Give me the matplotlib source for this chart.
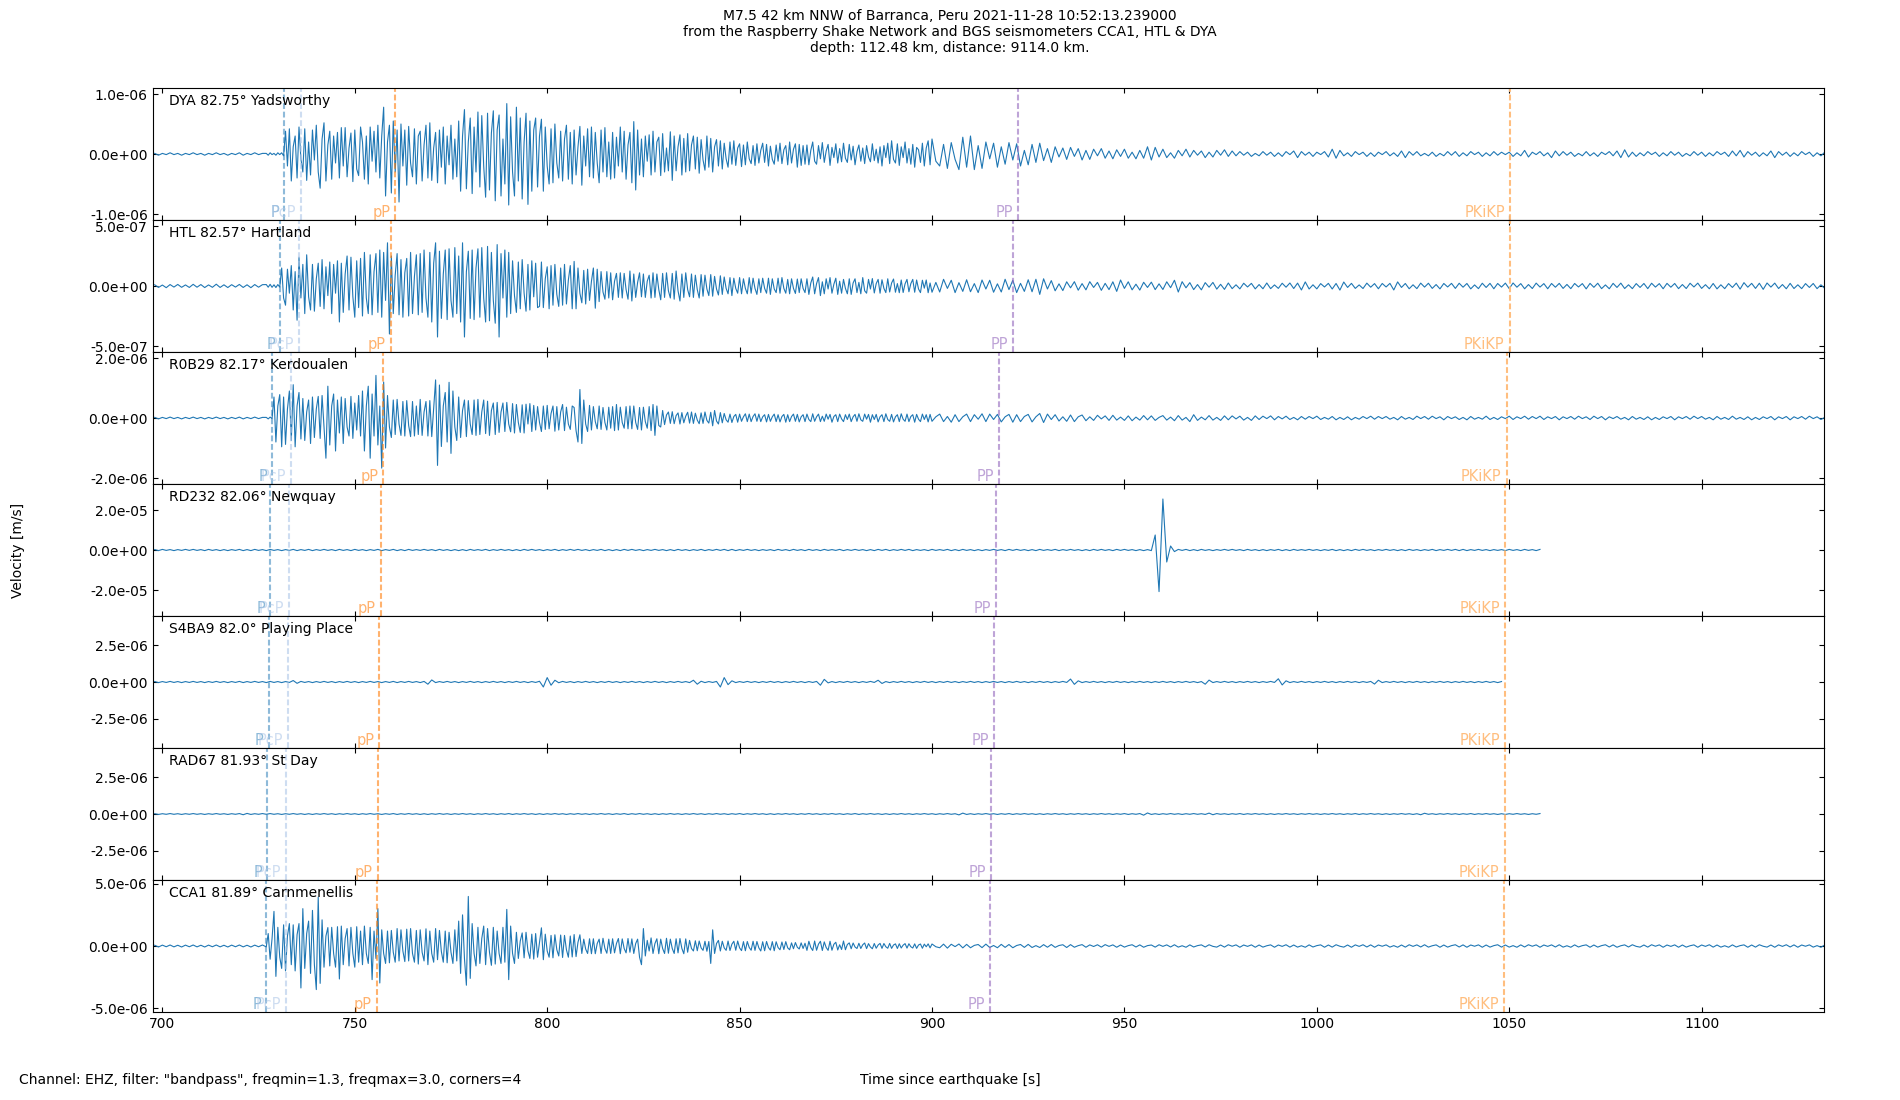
import numpy as np
import matplotlib
matplotlib.use("Agg")
import matplotlib.pyplot as plt
from matplotlib.ticker import FormatStrFormatter

# ---- data ----
# the strong traces are kept in three pieces: 1 s samples before the onset,
# 0.5 s samples over the main arrivals (727-899.5 s), 1 s samples after.

stations = ["DYA 82.75° Yadsworthy", "HTL 82.57° Hartland", "R0B29 82.17° Kerdoualen",
            "RD232 82.06° Newquay", "S4BA9 82.0° Playing Place", "RAD67 81.93° St Day",
            "CCA1 81.89° Carnmenellis"]

# unit of each trace list [m/s]
units = [1e-8, 1e-9, 1e-8, 1e-7, 1e-8, 1e-8, 1e-8]

ylims = [1.1e-6, 5.5e-7, 2.2e-6, 3.3e-5, 4.5e-6, 4.5e-6, 5.3e-6]
yticks = [1.0e-6, 5.0e-7, 2.0e-6, 2.0e-5, 2.5e-6, 2.5e-6, 5.0e-6]

head_start, body_start, tail_start = 698.0, 727.0, 900.0

# ---------------- DYA ----------------
dya_head = [
    1, -2, 1, -1, 2, -1, 1, -2, 1, -1,
    2, -1, 1, -2, 1, -1, 2, -1, 1, -2,
    1, -1, 2, -2, 1, -1, 2, -1, 1,
]
dya_body = [
    1, -2, 2, -1, 1, -2, 2, -1, 2, -3,
    38, -20, 42, -45, 12, 30, -40, 45, -8, -30,
    42, -44, 20, -35, 40, -10, 48, -30, -57, 25,
    52, -45, 15, 38, -42, 30, -15, 36, -40, 44,
    -20, 44, -38, 10, 35, -46, 40, -25, -36, 45,
    20, -42, 30, -50, 45, -12, 38, -30, 48, -40,
    30, 78, -70, 20, 48, -65, 55, -30, 40, -80,
    50, -20, 40, -52, 46, -15, -38, 42, -50, 30,
    38, -45, 15, 48, -40, 52, -44, 10, 36, -48,
    40, -22, 45, -50, 30, -18, 48, -42, 25, -38,
    55, -62, 30, 74, -58, 20, 60, -66, 45, -30,
    70, -55, 64, -20, -72, 68, -60, 35, 72, -78,
    40, 65, -70, 25, -50, 84, -85, 62, -30, -70,
    78, -45, 60, -75, 20, 68, -84, 55, -62, 40,
    60, -55, 30, 58, -62, 45, -20, -50, 42, -48,
    50, -15, -40, 38, -45, 25, 48, -42, 36, -50,
    40, -35, 12, 46, -52, 30, -20, 42, -38, 45,
    -40, 36, -15, -48, 40, -30, 44, -38, 20, -42,
    36, -40, 28, -20, 45, -30, 38, -42, 15, 36,
    -48, 54, -60, 40, -35, 25, -38, 30, -12, 32,
    -35, 38, -30, 20, 28, -36, 34, -30, 10, -28,
    37, -44, 30, -28, 12, 32, -35, 26, -30, 34,
    -28, 15, 30, -25, 28, -32, 24, -10, -27, 30,
    -22, 26, -30, 12, 24, -20, 22, -25, 18, -8,
    -22, 20, -17, 22, -19, 10, 17, -21, 15, -18,
    20, -8, -16, 14, -19, 17, -15, 6, 18, -14,
    16, -20, 13, -9, -17, 15, -12, 18, -16, 7,
    14, -18, 20, -15, 8, 17, -22, 16, -19, 14,
    -17, 15, -18, 6, 20, -12, -17, 14, -8, 19,
    -14, 5, 16, -19, 11, -6, 17, -15, 9, -13,
    18, -7, -14, 16, -10, 13, -18, 4, 15, -12,
    10, -16, 14, -5, -13, 17, -11, 8, -15, 12,
    -20, 14, -6, 18, -16, 22, -9, -15, 17, -19,
    12, -6, 20, -15, 9, -17, 16, -22, 11, 7,
    -14, 18, -20, 10, 22, -18,
]
dya_tail = [
    25, -12, -20, 16, -24, 19, -9, -26, 28, -22,
    30, -26, 14, -24, 20, -8, 18, -22, 12, -17,
    19, -10, 17, -20, 6, -18, 16, -14, 18, -11,
    9, -14, 12, -5, 10, -9, 11, -4, 9, -10,
    6, -9, 8, -3, 9, -7, 5, -8, 7, -4,
    8, -7, 3, -8, 6, -7, 12, -10, 11, -5,
    8, -6, 2, -7, 6, -3, 8, -5, 6, -2,
    5, -6, 3, -5, 6, -2, 7, -4, 5, -3,
    4, -2, 3, -4, 1, -3, 4, -2, 3, -4,
    2, -4, 4, -1, 5, -6, 4, -2, 3, -4,
    3, -1, 4, -5, 8, -7, 6, -3, 2, -4,
    4, -1, 3, -4, 2, -4, 3, -1, 4, -3,
    2, -4, 5, -6, 4, -2, 4, -3, 1, -3,
    3, -4, 1, -3, 4, -2, 4, -4, 2, -3,
    4, -1, 3, -4, 2, -3, 4, -2, 3, -1,
    3, -4, 2, -3, 6, -5, 3, -1, 4, -3,
    2, -6, 5, -3, 4, -2, 3, -4, 1, -3,
    4, -3, 2, -4, 3, -1, 4, -3, 5, -6,
    7, -5, 3, -4, 2, -3, 4, -1, 3, -4,
    2, -3, 4, -2, 3, -4, 1, -3, 4, -2,
    3, -4, 2, -3, 4, -1, 3, -4, 5, -3,
    6, -5, 4, -2, 3, -4, 2, -3, 5, -6,
    4, -2, 3, -4, 2, -3, 4, -1, 3, -4,
    2, -3, 3,
]

# ---------------- HTL ----------------
htl_head = [
    10, -12, 8, -14, 12, -9, 13, -11, 9, -12,
    14, -10, 12, -13, 9, -11, 15, -12, 10, -13,
    11, -9, 13, -12, 10, -14, 12, -10, 11,
]
htl_body = [
    12, -10, 14, -11, 10, -13, 12, -9, 150, -100,
    -160, 140, -60, 170, -200, 120, -285, 240, -100, 180,
    -230, 260, -90, -200, 180, -210, 60, 190, -170, 220,
    -190, 160, -80, 200, -230, 180, -60, 210, -300, 190,
    -220, 100, 250, -200, 240, -90, -260, 210, -180, 230,
    -250, 280, -100, -230, 260, -240, 120, 270, -220, 300,
    -260, 280, -120, 360, -400, 250, -230, 90, 270, -240,
    220, -260, 110, 230, -250, 280, -230, 80, 260, -240,
    270, -220, 300, -100, -260, 280, -300, 190, 360, -425,
    290, -270, 100, 300, -280, 310, -120, -260, 320, -230,
    250, -300, 360, -425, 120, 290, -270, 300, -280, 150,
    310, -260, 320, -100, -300, 330, -290, 280, -120, -310,
    345, -425, 270, -100, 300, -260, 280, -230, 210, -80,
    -220, 200, -190, 220, -60, -210, 180, -200, 210, -90,
    190, -180, -170, 200, -180, 60, 160, -190, 170, -160,
    180, -70, -170, 150, -160, 180, -150, 50, 170, -190,
    205, -190, 150, -60, -140, 130, -150, 140, -120, 40,
    150, -185, 140, -130, 120, -50, -110, 120, -100, 110,
    -115, 40, 105, -95, 110, -100, 105, -30, -110, 125,
    -125, 100, -95, 30, 110, -90, 100, -95, 40, 90,
    -100, 110, -95, 100, -30, -115, 105, -95, 110, -40,
    -100, 105, -110, 125, -40, -125, 100, -95, 110, -30,
    -90, 100, -95, 90, -30, -100, 95, -85, 90, -25,
    -80, 95, -85, 80, -25, -75, 85, -70, 75, -20,
    -65, 70, -80, 65, -20, -60, 70, -65, 60, -20,
    -65, 70, -60, 65, -20, -70, 60, -55, 65, -20,
    -60, 65, -70, 60, -25, -55, 65, -60, 70, -20,
    -60, 55, -65, 60, -20, -62, 58, -55, 60, -20,
    -55, 60, -70, 25, 75, -65, 20, 70, -80, 35,
    -65, 60, -25, 70, -60, 15, 65, -70, 40, -60,
    55, -20, -65, 60, -70, 25, 60, -55, 30, -65,
    70, -40, -60, 55, -25, 62, -58, 20, 55, -60,
    52, -20, -55, 60, -50, 25, 58, -52, 20, -56,
    50, -54, 18, 55, -48, 20, 55, -52, 50, -25,
    -55, 48, -18, 50, -56, 25,
]
htl_tail = [
    -52, 30, -50, 56, -20, 48, -55, 28, -45, 52,
    -48, 20, -55, 50, -25, 48, -52, 18, -50, 56,
    -30, 48, -55, 22, -45, 52, -48, 56, -70, 60,
    -25, 45, -40, 18, -38, 35, -15, 36, -35, 20,
    -32, 36, -12, 30, -36, 22, -30, 35, -45, 50,
    -20, 35, -32, 15, -34, 31, -12, 32, -30, 18,
    -29, 35, -14, 48, -50, 36, -15, 28, -30, 12,
    -32, 28, -10, 30, -26, 14, -28, 25, -22, 10,
    -24, 23, -8, 22, -24, 12, -23, 25, -22, 9,
    -20, 23, -10, 25, -21, 24, -33, 34, -25, 10,
    -24, 20, -8, 22, -25, 21, -34, 33, -12, 22,
    -20, 9, -21, 24, -10, 20, -23, 21, -8, 22,
    -33, 34, -12, 21, -23, 10, -22, 24, -9, 23,
    -20, 12, -24, 21, -8, 22, -20, 23, -10, 21,
    -24, 9, -22, 23, -12, 22, -23, 21, -9, 24,
    -22, 25, -10, 20, -23, 12, -21, 24, -9, 20,
    -23, 21, -10, 22, -20, 13, -22, 21, -8, 20,
    -24, 22, -11, 23, -22, 9, -23, 22, -12, 24,
    -21, 10, -22, 20, -12, 21, -22, 23, -9, 20,
    -23, 22, -10, 21, -22, 12, -21, 23, -8, 24,
    -20, 11, -23, 21, -24, 10, -22, 20, -12, 24,
    -26, 28, -10, 22, -20, 23, -28, 25, -9, 24,
    -21, 12, -23, 22, -21, 10, -22, 20, -12, 21,
    -22, 10, -20,
]

# ---------------- R0B29 ----------------
r0b29_head = [
    2, -3, 2, -2, 3, -2, 2, -3, 2, -2,
    3, -2, 2, -3, 2, -2, 3, -2, 2, -3,
    2, -2, 3, -3, 2, -2, 3, -2, 2,
]
r0b29_body = [
    2, -3, 3, -2, 70, -80, 40, 78, -96, 70,
    -88, 30, 90, -75, 111, -96, 40, 85, -70, 65,
    -75, 20, 60, -85, 70, -65, 30, 72, -68, 75,
    -30, -134, 106, -90, 40, 80, -110, 60, -50, 70,
    -85, 65, -30, -60, 72, -68, 50, -40, 75, -60,
    90, -110, 40, 106, -134, 80, -60, 142, -90, 40,
    -167, 120, -100, 75, -30, -65, 60, -55, 62, -20,
    -58, 55, -60, 58, -25, -62, 55, -60, 40, -55,
    62, -58, 20, 55, -60, 58, -62, 30, 127, -158,
    110, -95, 40, 85, -80, 119, -118, 90, -30, -75,
    70, -65, 25, 60, -62, 58, -20, -55, 60, -58,
    62, -55, 20, 60, -52, 56, -58, 25, 50, -55,
    52, -48, 20, 50, -45, 52, -20, -46, 48, -50,
    45, -15, -48, 44, -50, 46, -20, 48, -45, 42,
    -40, 38, -15, -45, 40, -38, 42, -36, 15, 40,
    -44, 38, -40, 20, 45, -42, 36, -20, -38, 40,
    35, -42, -80, 95, -85, 60, -20, -45, 42, -40,
    38, -12, -36, 40, -38, 35, -15, -40, 36, -34,
    38, -42, 45, -40, 36, -15, -34, 38, -36, 40,
    -36, 40, -15, -38, 35, -40, 36, -12, -34, 38,
    -42, 45, -58, 40, -25, -30, 25, -22, 10, 20,
    -18, 21, -19, 8, 17, -20, 18, -16, 6, 19,
    -17, 20, -18, 16, -7, -19, 17, -18, 20, -8,
    -17, 19, -26, 25, -10, -20, 18, -16, 15, -6,
    -14, 13, -15, 5, 12, -14, 13, -11, 4, 14,
    -12, 13, -12, 5, 14, -11, 13, -12, 4, 11,
    -13, 12, -11, 4, 13, -12, 11, -13, 5, 12,
    -14, 11, -12, 5, 13, -11, 12, -13, 4, 11,
    -12, 13, -5, -12, 14, -11, 4, 13, -12, 6,
    -11, 13, -4, 12, -14, 5, 11, -12, 13, -3,
    -12, 11, -5, 13, -12, 4, 12, -11, 14, -6,
    -11, 13, -4, 12, -14, 11, -5, 12, -13, 4,
    11, -12, 14, -5, -11, 12, -13, 4, 11, -12,
    14, -4, -11, 13, -12, 5, 11, -14, 12, -4,
    -12, 13, -5, 11, -13, 12,
]
r0b29_tail = [
    -11, 4, 13, -12, 5, -14, 11, -12, 4, 13,
    -12, 11, -4, 14, -12, 13, -5, 12, -13, 4,
    12, -14, 11, -12, 5, 12, -13, 4, 15, -15,
    13, -5, 11, -10, 4, -11, 10, -12, 4, 10,
    -9, 4, -8, 9, -3, 7, -8, 9, -7, 3,
    -8, 7, -9, 3, -7, 8, -6, 7, -8, 2,
    8, -7, 3, -9, 8, -7, 2, -12, 11, -8,
    3, -6, 8, -7, 2, -8, 7, -6, 7, -3,
    6, -7, 2, -8, 7, -5, 6, -2, 7, -6,
    5, -3, 6, -5, 2, -6, 5, -4, 5, -2,
    6, -5, 2, -4, 5, -6, 2, -5, 4, -6,
    2, -4, 5, -2, 6, -4, 5, -2, 5, -4,
    2, -6, 5, -4, 2, -5, 6, -2, 5, -4,
    6, -2, 4, -6, 5, -2, 4, -5, 2, -6,
    5, -4, 2, -4, 6, -5, 2, -5, 4, -2,
    6, -5, 4, -2, 6, -4, 5, -2, 6, -5,
    4, -2, 5, -6, 4, -2, 5, -4, 6, -2,
    4, -5, 6, -2, 5, -6, 4, -2, 5, -4,
    2, -6, 5, -4, 2, -5, 4, -6, 2, -5,
    4, -2, 5, -6, 4, -2, 5, -4, 6, -2,
    5, -4, 2, -6, 5, -4, 2, -5, 6, -4,
    2, -5, 4, -6, 2, -5, 4, -2, 5, -6,
    4, -2, 5, -6, 4, -2, 5, -4, 6, -2,
    4, -5, 2,
]

# ---------------- RD232 (1 s samples, 698-1058 s) ----------------
rd232 = [
    2, -3, 3, -2, 2, -3, 2, -2, 3, -2,
    3, -2, 2, -3, 3, -2, 2, -3, 2, -3,
    2, -2, 3, -3, 2, -3, 3, -2, 2, -3,
    3, -2, 2, -3, 2, -2, 3, -3, 2, -2,
    3, -3, 2, -2, 3, -2, 2, -3, 3, -2,
    2, -3, 3, -2, 2, -3, 2, -2, 3, -3,
    2, -2, 3, -3, 2, -3, 3, -2, 2, -2,
    3, -2, 2, -3, 3, -2, 2, -3, 2, -3,
    2, -3, 3, -2, 2, -2, 3, -3, 2, -2,
    3, -2, 2, -3, 2, -3, 3, -2, 3, -2,
    2, -3, 2, -2, 3, -3, 2, -2, 3, -2,
    3, -2, 2, -3, 2, -2, 3, -3, 2, -3,
    2, -3, 3, -2, 3, -2, 2, -3, 2, -2,
    3, -2, 2, -3, 2, -3, 3, -2, 2, -3,
    2, -2, 3, -3, 2, -2, 3, -2, 3, -3,
    3, -3, 2, -2, 3, -2, 2, -3, 2, -2,
    2, -3, 3, -2, 2, -3, 3, -2, 2, -3,
    3, -2, 2, -3, 3, -2, 2, -2, 3, -3,
    2, -2, 3, -2, 2, -3, 2, -3, 3, -2,
    3, -3, 2, -2, 3, -2, 3, -3, 2, -2,
    2, -3, 3, -2, 2, -2, 3, -3, 2, -3,
    3, -2, 2, -3, 2, -3, 2, -2, 3, -2,
    2, -3, 3, -2, 3, -2, 2, -3, 2, -3,
    3, -2, 2, -2, 3, -3, 2, -2, 3, -2,
    2, -3, 2, -3, 3, -2, 3, -2, 2, -3,
    3, -2, 3, -2, 2, -3, 2, -3, 2, -3,
    75, -208, 255, -60, 20, -8, 3, -2, 3, -3,
    2, -3, 3, -2, 2, -3, 2, -2, 3, -2,
    3, -2, 2, -3, 3, -2, 2, -3, 2, -3,
    2, -2, 3, -3, 2, -3, 3, -2, 2, -2,
    3, -2, 2, -3, 2, -2, 3, -3, 2, -3,
    2, -3, 3, -2, 3, -2, 2, -3, 2, -2,
    3, -2, 2, -3, 2, -3, 3, -2, 2, -3,
    2, -2, 3, -3, 2, -2, 3, -2, 3, -3,
    3, -3, 2, -2, 3, -2, 2, -3, 2, -2,
    2, -3, 3, -2, 2, -3, 3, -2, 2, -3,
    3,
]

# ---------------- S4BA9 (1 s samples, 698-1048 s) ----------------
s4ba9 = [
    3, -4, 3, -3, 4, -3, 3, -4, 3, -3,
    4, -3, 3, -4, 3, -3, 4, -3, 3, -4,
    3, -3, 4, -4, 3, -3, 4, -3, 3, -4,
    4, -3, 3, -4, 3, -3, 10, -9, 4, -3,
    3, -4, 3, -3, 4, -3, 3, -4, 3, -3,
    4, -3, 3, -4, 3, -3, 4, -3, 3, -4,
    3, -3, 4, -4, 3, -3, 4, -3, 3, -4,
    4, -15, 14, -4, 3, -3, 4, -3, 3, -4,
    3, -3, 4, -3, 3, -4, 3, -3, 4, -3,
    3, -4, 3, -3, 4, -3, 3, -4, 3, -3,
    5, -34, 30, -22, 12, -5, 4, -3, 3, -4,
    3, -3, 4, -3, 3, -4, 3, -3, 4, -3,
    3, -4, 3, -3, 4, -3, 3, -4, 3, -3,
    4, -3, 3, -4, 3, -3, 4, -3, 3, -4,
    12, -15, 5, -4, 3, -3, 4, -34, 30, -18,
    8, -4, 3, -3, 4, -3, 3, -4, 3, -3,
    4, -3, 3, -4, 3, -3, 4, -3, 3, -4,
    3, -3, 4, -22, 18, -6, 3, -4, 3, -3,
    4, -3, 3, -4, 3, -3, 4, -3, 12, -10,
    3, -4, 3, -3, 4, -3, 3, -4, 3, -3,
    4, -3, 3, -4, 3, -3, 4, -3, 3, -4,
    3, -3, 4, -3, 3, -4, 3, -3, 4, -3,
    3, -4, 3, -3, 4, -3, 3, -4, 3, -3,
    4, -3, 3, -4, 3, -3, 4, -3, 20, -16,
    8, -4, 3, -3, 4, -3, 3, -4, 3, -3,
    4, -3, 3, -4, 3, -3, 4, -3, 3, -4,
    3, -3, 4, -3, 3, -4, 3, -3, 4, -3,
    3, -4, 3, -15, 13, -4, 3, -3, 4, -3,
    3, -4, 3, -3, 4, -3, 3, -4, 3, -3,
    4, -3, 22, -20, 8, -4, 3, -3, 4, -3,
    3, -4, 3, -3, 4, -3, 3, -4, 3, -3,
    4, -3, 3, -4, 3, -3, 4, -14, 12, -4,
    3, -3, 4, -3, 3, -4, 3, -3, 4, -3,
    3, -4, 3, -3, 4, -3, 3, -4, 3, -3,
    4, -3, 3, -4, 3, -3, 4, -3, 3, -4,
    3,
]

# ---------------- RAD67 (1 s samples, 698-1058 s) ----------------
rad67 = [
    2, -3, 2, -2, 3, -2, 2, -3, 2, -2,
    3, -2, 2, -3, 2, -2, 3, -2, 2, -3,
    2, -2, 3, -5, 4, -3, 2, -2, 3, -2,
    3, -2, 2, -3, 2, -2, 3, -2, 2, -3,
    2, -3, 2, -2, 3, -2, 2, -3, 2, -2,
    3, -2, 2, -3, 2, -2, 3, -2, 2, -3,
    2, -2, 3, -3, 2, -2, 3, -2, 2, -3,
    2, -3, 2, -2, 3, -2, 2, -3, 2, -2,
    3, -2, 2, -3, 2, -2, 3, -2, 2, -3,
    2, -2, 3, -3, 2, -2, 3, -2, 2, -3,
    2, -3, 2, -2, 3, -2, 2, -3, 2, -2,
    3, -2, 2, -3, 2, -2, 3, -2, 2, -3,
    2, -2, 3, -3, 2, -2, 3, -2, 2, -3,
    2, -3, 2, -2, 3, -2, 2, -3, 2, -2,
    3, -2, 2, -3, 2, -2, 3, -2, 2, -3,
    2, -2, 3, -3, 2, -2, 3, -2, 2, -3,
    2, -3, 2, -2, 3, -2, 2, -3, 2, -2,
    3, -2, 2, -3, 2, -2, 3, -2, 2, -3,
    2, -2, 3, -3, 2, -2, 3, -2, 2, -3,
    2, -3, 2, -2, 3, -2, 2, -3, 2, -2,
    3, -2, 2, -3, 2, -2, 3, -2, 2, -6,
    6, -3, 2, -3, 2, -2, 3, -2, 2, -3,
    2, -2, 3, -3, 2, -2, 3, -2, 2, -3,
    2, -3, 2, -2, 3, -2, 2, -3, 2, -2,
    3, -2, 2, -3, 2, -2, 3, -2, 2, -3,
    2, -2, 3, -3, 2, -2, 3, -8, 7, -3,
    2, -3, 2, -2, 3, -2, 2, -3, 2, -2,
    3, -2, 2, -3, 6, -5, 3, -2, 2, -3,
    2, -2, 3, -3, 2, -2, 3, -2, 2, -3,
    2, -3, 2, -2, 3, -2, 2, -3, 2, -2,
    3, -2, 2, -3, 2, -2, 3, -2, 2, -3,
    2, -2, 3, -3, 2, -2, 3, -2, 2, -3,
    2, -3, 2, -2, 3, -2, 2, -3, 2, -5,
    5, -2, 2, -3, 2, -2, 3, -2, 2, -3,
    2, -2, 3, -3, 2, -2, 3, -2, 2, -3,
    2, -3, 2, -2, 3, -2, 2, -3, 2, -2,
    3,
]

# ---------------- CCA1 ----------------
cca1_head = [
    6, -8, 7, -6, 8, -7, 6, -8, 7, -6,
    8, -7, 6, -8, 7, -6, 8, -7, 6, -8,
    7, -6, 8, -7, 6, -8, 7, -6, 8,
]
cca1_body = [
    -7, 100, -106, 60, 278, -244, 150, -90, -180, 170,
    -200, 80, 180, -150, 170, -200, 90, 180, -337, 300,
    -180, 100, 200, -220, 286, -150, -350, 392, -300, 210,
    -170, 80, 148, -160, 150, -60, -170, 155, -265, 160,
    -150, 60, 140, -160, 150, -60, -170, 155, -130, 120,
    -150, 160, -60, -140, 150, -270, 120, -100, 300, -297,
    130, -60, -140, 120, -135, 125, -50, -130, 140, -120,
    130, -40, -125, 135, -120, 140, -60, -130, 125, -145,
    130, -50, -120, 138, -150, 120, -60, -130, 140, -110,
    125, -45, -130, 120, -135, 110, -50, -140, 130, -120,
    200, -220, 250, -100, -315, 398, -260, 180, -60, -160,
    150, -140, 60, 160, -150, 140, -50, -155, 150, -145,
    120, -60, -140, 150, -130, 294, -270, 160, -60, -140,
    110, -100, 40, 105, -95, 110, -40, -100, 95, -105,
    100, -90, 30, 146, -110, 95, -40, -90, 85, -95,
    90, -30, -80, 88, -92, 85, -30, -90, 80, -88,
    92, -85, 30, 90, -60, 55, -25, -60, 58, -62,
    58, -62, 20, 55, -60, 62, -20, -58, 55, -60,
    58, -55, 20, 60, -62, 57, -20, -55, 60, -50,
    57, -60, 20, 55, -90, -150, 140, -80, 45, -40,
    65, -60, 20, 58, -62, 55, -20, -60, 62, -58,
    55, -20, -60, 58, -55, 60, -20, -62, 57, -50,
    45, -20, -40, 42, -38, 40, -15, -35, 38, -42,
    36, -140, 130, -60, 20, 45, -40, 38, -15, -35,
    40, -36, 15, 38, -34, 40, -15, -37, 35, -38,
    36, -12, -34, 38, -35, 36, -15, -40, 34, -38,
    36, -12, -33, 35, -38, 34, -12, -30, 32, -28,
    35, -15, -30, 25, -22, 28, -10, -24, 25, -20,
    22, -35, 38, -12, -36, 40, -34, 15, 38, -36,
    33, -12, -35, 38, -34, 14, 30, -32, 10, -28,
    40, -30, 12, 25, -22, 24, -8, -20, 22, -20,
    10, 24, -21, 19, -8, -22, 20, -18, 8, 21,
    -19, 20, -6, -18, 21, -19, 8, 17, -20, 18,
    -16, 7, 19, -17, 18, -6, -16, 17, -19, 8,
    16, -18, 15, -6, 17, -15,
]
cca1_tail = [
    16, -6, -14, 15, -17, 14, -5, 16, -15, 13,
    -14, 5, 12, -13, 15, -12, 4, -14, 13, -11,
    12, -14, 4, 12, -11, 13, -12, 3, -12, 11,
    -10, 12, -11, 4, 10, -12, 11, -10, 3, 11,
    -10, 9, -4, 10, -9, 11, -3, 9, -10, 8,
    -9, 3, 10, -8, 9, -10, 3, 8, -9, 10,
    -3, 9, -8, 10, -9, 2, -10, 9, -8, 3,
    9, -8, 10, -3, -9, 8, -9, 10, -2, 9,
    -10, 8, -3, 9, -10, 8, -9, 2, 9, -10,
    8, -3, 10, -9, 8, -9, 2, -10, 9, -8,
    3, 9, -10, 8, -9, 10, -2, -9, 8, -10,
    9, -3, 10, -8, 9, -10, 8, -2, 9, -9,
    3, -10, 8, -9, 10, -3, 9, -8, 10, -9,
    2, 9, -10, 8, -9, 3, 10, -8, 9, -10,
    8, -2, 9, -10, 8, -9, 3, 10, -9, 8,
    -9, 3, -10, 9, -8, 10, -2, 9, -10, 8,
    -3, 9, -8, 10, -9, 2, -10, 9, -8, 3,
    9, -10, 8, -9, 3, 10, -8, 9, -10, 2,
    9, -8, 10, -3, -9, 8, -9, 10, -2, 9,
    -10, 8, -3, 9, -10, 8, -9, 2, 9, -10,
    8, -3, 10, -9, 8, -9, 2, -10, 9, -8,
    3, 9, -10, 8, -9, 10, -2, -9, 8, -10,
    9, -3, 10, -8, 9, -10, 8, -2, 9, -9,
    3, -10, 8,
]

# (start [s], step [s], values) pieces for every station
pieces = [
    [(head_start, 1.0, dya_head), (body_start, 0.5, dya_body), (tail_start, 1.0, dya_tail)],
    [(head_start, 1.0, htl_head), (body_start, 0.5, htl_body), (tail_start, 1.0, htl_tail)],
    [(head_start, 1.0, r0b29_head), (body_start, 0.5, r0b29_body), (tail_start, 1.0, r0b29_tail)],
    [(head_start, 1.0, rd232)],
    [(head_start, 1.0, s4ba9)],
    [(head_start, 1.0, rad67)],
    [(head_start, 1.0, cca1_head), (body_start, 0.5, cca1_body), (tail_start, 1.0, cca1_tail)],
]

# predicted arrival times [s] per station (same order as stations)
phases = ["P", "PcP", "pP", "PP", "PKiKP"]
arrivals = {
    "P":     [731.6, 730.6, 728.5, 727.9, 727.6, 727.2, 726.9],
    "PcP":   [736.0, 735.4, 733.5, 732.9, 732.6, 732.2, 732.0],
    "pP":    [760.5, 759.3, 757.4, 756.7, 756.4, 756.0, 755.7],
    "PP":    [922.3, 921.0, 917.4, 916.7, 916.1, 915.4, 915.1],
    "PKiKP": [1050.3, 1050.1, 1049.3, 1049.0, 1049.0, 1048.8, 1048.6],
}
phase_colors = {"P": ("#1f77b4", 0.5), "PcP": ("#aec7e8", 0.6),
                "pP": ("#ff7f0e", 0.6), "PP": ("#9467bd", 0.6),
                "PKiKP": ("#ffbb78", 0.95)}

title = ("M7.5 42 km NNW of Barranca, Peru 2021-11-28 10:52:13.239000\n"
         "from the Raspberry Shake Network and BGS seismometers CCA1, HTL & DYA\n"
         "depth: 112.48 km, distance: 9114.0 km.")
filter_note = 'Channel: EHZ, filter: "bandpass", freqmin=1.3, freqmax=3.0, corners=4'


def trace_arrays(parts, unit):
    t = np.concatenate([s + d * np.arange(len(v)) for s, d, v in parts])
    v = np.concatenate([np.asarray(v, dtype=float) for _, _, v in parts]) * unit
    return t, v


fig, axes = plt.subplots(len(stations), 1, sharex=True, figsize=(19, 11), dpi=100)
fig.subplots_adjust(left=0.0804, right=0.96, top=0.92, bottom=0.08, hspace=0)

for i, ax in enumerate(axes):
    t, vals = trace_arrays(pieces[i], units[i])
    ax.plot(t, vals, color="tab:blue", lw=0.8)
    ax.set_ylim(-ylims[i], ylims[i])
    ax.set_yticks([-yticks[i], 0, yticks[i]])
    ax.yaxis.set_major_formatter(FormatStrFormatter("%.1e"))
    ax.tick_params(direction="in", top=True, right=True, labelsize=10)
    ax.text(0.0095, 0.955, stations[i], transform=ax.transAxes, va="top", ha="left",
            fontsize=10)
    for ph in phases:
        col, a = phase_colors[ph]
        x = arrivals[ph][i]
        ax.axvline(x, color=col, alpha=a, lw=1.5, ls=(0, (2.8, 1.3)))
        ax.annotate(ph, xy=(x, 0), xycoords=("data", "axes fraction"),
                    xytext=(-3.5, 0), textcoords="offset points",
                    ha="right", va="bottom", color=col, alpha=a, fontsize=10.5)

axes[-1].set_xlim(697.5, 1131.8)
axes[-1].set_xticks(np.arange(700, 1101, 50))

fig.suptitle(title, x=0.5, y=0.992, fontsize=10, va="top")
fig.text(0.0095, 0.5, "Velocity [m/s]", rotation=90, ha="center", va="center", fontsize=10)
fig.text(0.5, 0.018, "Time since earthquake [s]", ha="center", va="center", fontsize=10)
fig.text(0.0102, 0.018, filter_note, ha="left", va="center", fontsize=10)

fig.savefig("out.png", dpi=100)
